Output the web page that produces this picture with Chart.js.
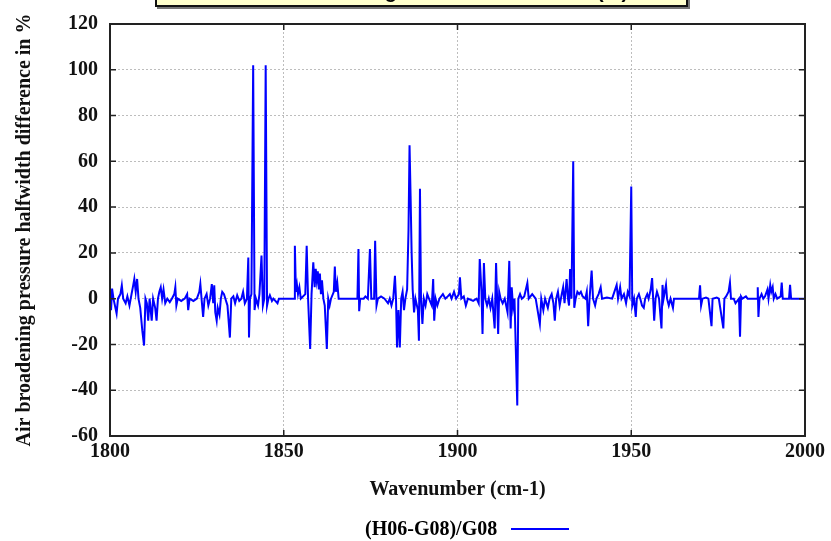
<!DOCTYPE html>
<html>
<head>
<meta charset="utf-8">
<script src="https://cdn.jsdelivr.net/npm/chart.js@4/dist/chart.umd.min.js"></script>
<style>
  html, body { margin: 0; padding: 0; background: #fff; overflow: hidden; }
  #wrap { position: relative; width: 831px; height: 541px; }
  #chart { position: absolute; left: 0; top: 0; }
  #title-box {
    position: absolute; left: 155px; top: -30px; width: 529px; height: 33px;
    box-sizing: content-box;
    background: #ffffcc; border: 2px solid #111; box-shadow: 2px 2px 0 #777;
    font: bold 20px "Liberation Sans", Arial, sans-serif; line-height: 24px;
    text-align: center; overflow: hidden;
  }
  #title-box span { display: block; padding-top: 7px; padding-left: 40px; }
  #legend {
    position: absolute; left: 365px; top: 514px; height: 28px;
    font: bold 20px "Liberation Serif", "Times New Roman", serif; line-height: 28px;
    white-space: nowrap;
  }
  #legend i { display: inline-block; width: 58px; height: 2px; background: #0000ff;
    vertical-align: middle; margin-left: 14px; margin-top: -2px; }
</style>
</head>
<body>
<div id="wrap">
  <canvas id="chart" width="831" height="541"></canvas>
  <div id="title-box"><span>Air broadening halfwidth difference (%)</span></div>
  <div id="legend">(H06-G08)/G08<i></i></div>
</div>
<script>
/* ---- Data: [wavenumber cm-1, difference %] ---- */
const band1800 = [
  [1800.0, 0], [1800.3, -5], [1800.6, 4.4], [1801.0, 0], [1801.9, -6.5], [1802.3, 0],
  [1803.0, 2], [1803.4, 5.8], [1803.8, 0], [1804.5, -2], [1805.0, 1], [1805.6, -3],
  [1806.2, 2], [1806.7, 6], [1807.0, 8.6], [1807.4, 3], [1807.8, 8.6], [1808.2, 0],
  [1808.7, -4], [1809.3, -14], [1809.8, -20.5], [1810.2, 0], [1810.6, -2], [1811.0, -9.6],
  [1811.4, 0], [1812.0, -9.6], [1812.4, 0], [1813.0, -4], [1813.4, -9.6], [1813.8, 0],
  [1814.2, 3], [1814.6, 5], [1815.0, 0], [1815.4, 4], [1815.9, -2], [1816.5, 0],
  [1817.2, -1.5], [1817.8, 0], [1818.5, 2], [1818.8, 5], [1819.1, -3], [1819.5, 0],
  [1820.5, -1], [1821.5, 0], [1822.2, 2], [1822.5, -5], [1822.9, 0], [1824.0, -1],
  [1825.0, 0], [1825.7, 3], [1826.0, 6.4], [1826.4, -1], [1826.8, -8], [1827.2, 0],
  [1827.8, 2], [1828.3, -3], [1828.8, 0], [1829.3, 6.4], [1829.7, -2], [1830.0, 5.8],
  [1830.3, -6], [1830.7, -9.6], [1831.0, -4], [1831.5, -7], [1831.9, 0], [1832.3, 3],
  [1832.8, 2], [1833.2, 0], [1833.8, -3], [1834.5, -17], [1834.9, 0], [1835.5, 1],
  [1836.0, -2], [1836.6, 1.5], [1837.2, -1], [1837.8, 0], [1838.3, 3], [1838.8, -2],
  [1839.4, 0], [1839.8, 18], [1840.0, -17], [1840.3, 0], [1840.7, 2], [1841.2, 102],
  [1841.6, -5], [1842.0, 0], [1842.6, -3], [1843.0, 2], [1843.6, 18.8], [1844.0, -3],
  [1844.4, 0], [1844.8, 102], [1845.2, -3], [1845.6, 0], [1846.0, 1.5], [1846.6, -1],
  [1847.0, 0], [1848.2, -2], [1848.6, 0]
];

const band1850 = [
  [1853.0, 0], [1853.2, 23.1], [1853.5, 3], [1853.8, 6], [1854.1, 2], [1854.5, 5],
  [1854.9, 0], [1856.2, 2], [1856.6, 23.1], [1857.0, 0], [1857.6, -22], [1858.0, 2],
  [1858.5, 15.9], [1858.9, 5], [1859.2, 13], [1859.5, 8], [1859.8, 12], [1860.1, 4],
  [1860.4, 11], [1860.7, 2], [1861.0, 8], [1861.4, 0], [1861.8, -3], [1862.4, -22],
  [1862.8, 0], [1863.2, -3], [1863.6, 0], [1864.4, 3], [1864.7, 14], [1865.0, 3],
  [1865.4, 7], [1865.8, 0], [1871.2, 0], [1871.5, 21.7], [1871.7, -5.5], [1872.0, 0],
  [1873.0, 0], [1873.5, 1], [1874.2, 0], [1874.8, 21.7], [1875.2, 0], [1876.0, 0],
  [1876.3, 25.3], [1876.7, -3], [1877.1, 0], [1878.0, 1], [1879.0, 0], [1880.0, -2],
  [1880.5, 0], [1881.0, -3], [1881.5, 0], [1882.0, 10], [1882.3, 0], [1882.6, -21.3],
  [1883.0, -5], [1883.4, -21.3], [1883.8, 0], [1884.2, 3], [1884.6, -5], [1885.0, 0],
  [1885.5, 4], [1885.9, 30], [1886.2, 67], [1886.5, 45], [1886.8, 20], [1887.1, 4],
  [1887.5, -6], [1887.9, 0], [1888.6, -5], [1888.9, -18.4], [1889.2, 48], [1889.5, 0],
  [1889.9, -11], [1890.3, 0], [1890.8, -3], [1891.3, 2], [1891.8, 0], [1892.6, -3],
  [1893.0, 8.6], [1893.3, -9.6], [1893.7, 0], [1894.2, -3], [1894.8, 0], [1895.8, 2],
  [1896.5, 0], [1897.2, 1], [1897.8, 2], [1898.3, 0], [1899.0, 3], [1899.6, 0]
];

const band1900 = [
  [1900.4, 2], [1900.7, 9.3], [1901.1, 0], [1901.8, 1], [1902.4, -3], [1903.0, 0],
  [1904.5, -1], [1905.5, 0], [1906.1, -2], [1906.4, 17.3], [1906.9, 3], [1907.2, -15.4],
  [1907.6, 15.6], [1908.0, 0], [1908.5, -3], [1909.0, 0], [1909.5, -4], [1910.0, 0],
  [1910.7, -13], [1911.1, 15.6], [1911.7, -15.4], [1912.0, 3], [1912.4, 0], [1913.0, -2],
  [1913.6, 0], [1914.4, -6], [1914.9, 16.5], [1915.3, -13], [1915.6, 5], [1916.0, -4],
  [1916.4, 0], [1917.2, -46.7], [1917.5, 0], [1918.0, 2], [1918.5, 0], [1919.2, 1],
  [1920.1, 6.8], [1920.5, 0], [1921.5, 2], [1922.5, 0], [1923.7, -11], [1924.1, 0],
  [1924.7, -5], [1925.2, 0], [1926.0, -4], [1926.5, 0], [1927.1, 2], [1927.6, -2],
  [1928.0, -9.6], [1928.4, 0], [1928.9, 3], [1929.4, -3], [1930.0, 2], [1930.4, 5],
  [1930.8, -2], [1931.4, 8.6], [1931.8, 0], [1932.1, -3], [1932.4, 13], [1932.8, 0],
  [1933.3, 60], [1933.6, -4], [1934.0, 0], [1934.5, 3], [1935.0, 2], [1935.5, 3],
  [1936.0, 1], [1936.8, 0], [1937.2, 3], [1937.6, -12], [1938.0, 0], [1938.6, 12.3],
  [1939.0, 0], [1939.6, -3], [1940.0, 0], [1940.6, 2], [1941.2, 5], [1941.6, 0],
  [1943.0, 0.5], [1944.5, 0], [1945.8, 6], [1946.2, 0], [1946.8, 5], [1947.2, 0],
  [1947.9, 2], [1948.5, -2], [1949.0, 3], [1949.5, 1]
];

const band1950 = [
  [1950.0, 49], [1950.3, -3], [1950.8, 0], [1951.3, -8], [1951.6, 0], [1952.2, 2],
  [1952.6, 0], [1953.1, -3], [1953.6, -4], [1954.0, 0], [1954.6, 2], [1955.0, 0],
  [1955.6, 4], [1956.0, 9], [1956.3, 0], [1956.6, -9.6], [1957.0, 0], [1957.4, 3],
  [1958.0, 0], [1958.7, -13], [1959.0, 6], [1959.3, 0], [1960.0, 6], [1960.3, 0],
  [1960.8, -3], [1961.3, 0], [1962.0, -4], [1962.3, 0], [1969.5, 0], [1969.8, 5.8],
  [1970.1, -3], [1970.5, 0], [1971.5, 0.5], [1972.2, 0], [1973.1, -12], [1973.4, 0],
  [1974.6, 0.5], [1975.2, 0], [1976.5, -13], [1976.8, 0], [1977.3, 1], [1978.0, 3],
  [1978.4, 7], [1978.7, 0], [1979.5, 0], [1980.0, -2], [1981.0, 0], [1981.3, -16.6],
  [1981.6, 1], [1982.0, 0], [1983.0, 1], [1983.5, 0], [1986.2, 0], [1986.4, 5],
  [1986.6, -8], [1986.9, 0], [1987.5, 2], [1988.0, 0], [1988.5, 1], [1989.2, 4],
  [1989.5, 0], [1990.0, 6], [1990.3, 3], [1990.7, 5], [1991.0, 0], [1991.5, 2],
  [1992.0, 0], [1993.0, 1], [1993.3, 7], [1993.6, 0], [1995.4, 0], [1995.7, 6],
  [1996.0, 0], [2000.0, 0]
];

const xTicks = [1800, 1850, 1900, 1950, 2000];
const yTicks = [-60, -40, -20, 0, 20, 40, 60, 80, 100, 120];

const seriesLabel = '(H06-G08)/G08';
const xTitle = 'Wavenumber (cm-1)';
const yTitle = 'Air broadening pressure halfwidth difference in %';

/* ---- Helpers ---- */
const SERIF = '"Liberation Serif", "Times New Roman", serif';

function toPoints(bands) {
  return bands.flat().map(p => ({ x: p[0], y: p[1] }));
}

// Solid inward tick marks and the black plot frame
const frameTicks = {
  id: 'frameTicks',
  afterDatasetsDraw(chart) {
    const { ctx, chartArea: a, scales: { x, y } } = chart;
    ctx.save();
    ctx.strokeStyle = '#222';
    ctx.lineWidth = 1.5;
    ctx.beginPath();
    xTicks.forEach(v => {
      const px = x.getPixelForValue(v);
      ctx.moveTo(px, a.bottom); ctx.lineTo(px, a.bottom - 6);
      ctx.moveTo(px, a.top);    ctx.lineTo(px, a.top + 6);
    });
    yTicks.forEach(v => {
      const py = y.getPixelForValue(v);
      ctx.moveTo(a.left, py);  ctx.lineTo(a.left + 6, py);
      ctx.moveTo(a.right, py); ctx.lineTo(a.right - 6, py);
    });
    ctx.stroke();
    ctx.lineWidth = 2;
    ctx.strokeRect(a.left, a.top, a.right - a.left, a.bottom - a.top);
    ctx.restore();
  }
};

/* ---- Chart ---- */
new Chart(document.getElementById('chart'), {
  type: 'scatter',
  data: {
    datasets: [{
      label: seriesLabel,
      data: toPoints([band1800, band1850, band1900, band1950]),
      showLine: true,
      borderColor: '#0000ff',
      backgroundColor: '#0000ff',
      borderWidth: 2,
      pointRadius: 0,
      tension: 0
    }]
  },
  options: {
    responsive: false,
    animation: false,
    layout: { padding: { top: 24, right: 26, bottom: 0, left: 0 } },
    plugins: {
      legend: { display: false },
      tooltip: { enabled: false }
    },
    scales: {
      x: {
        type: 'linear',
        min: 1800, max: 2000,
        afterBuildTicks: s => { s.ticks = xTicks.map(v => ({ value: v })); },
        afterFit: s => { s.height = 105; },
        grid: { color: '#bdbdbd', lineWidth: 1, drawTicks: false },
        border: { display: false, dash: [2, 2] },
        ticks: {
          color: '#111', padding: 4, maxRotation: 0,
          callback: v => String(v),
          font: { family: SERIF, size: 20, weight: 'bold' }
        },
        title: {
          display: true, text: xTitle, color: '#111',
          font: { family: SERIF, size: 20, weight: 'bold' },
          padding: { top: 0, bottom: 39 }
        }
      },
      y: {
        min: -60, max: 120,
        afterBuildTicks: s => { s.ticks = yTicks.map(v => ({ value: v })); },
        afterFit: s => { s.width = 110; },
        grid: { color: '#bdbdbd', lineWidth: 1, drawTicks: false },
        border: { display: false, dash: [2, 2] },
        ticks: {
          color: '#111', padding: 12,
          callback: v => String(v),
          font: { family: SERIF, size: 20, weight: 'bold' }
        },
        title: {
          display: true, text: yTitle, color: '#111',
          font: { family: SERIF, size: 20, weight: 'bold' },
          padding: { top: 13, bottom: 13 }
        }
      }
    }
  },
  plugins: [frameTicks]
});
</script>
</body>
</html>
